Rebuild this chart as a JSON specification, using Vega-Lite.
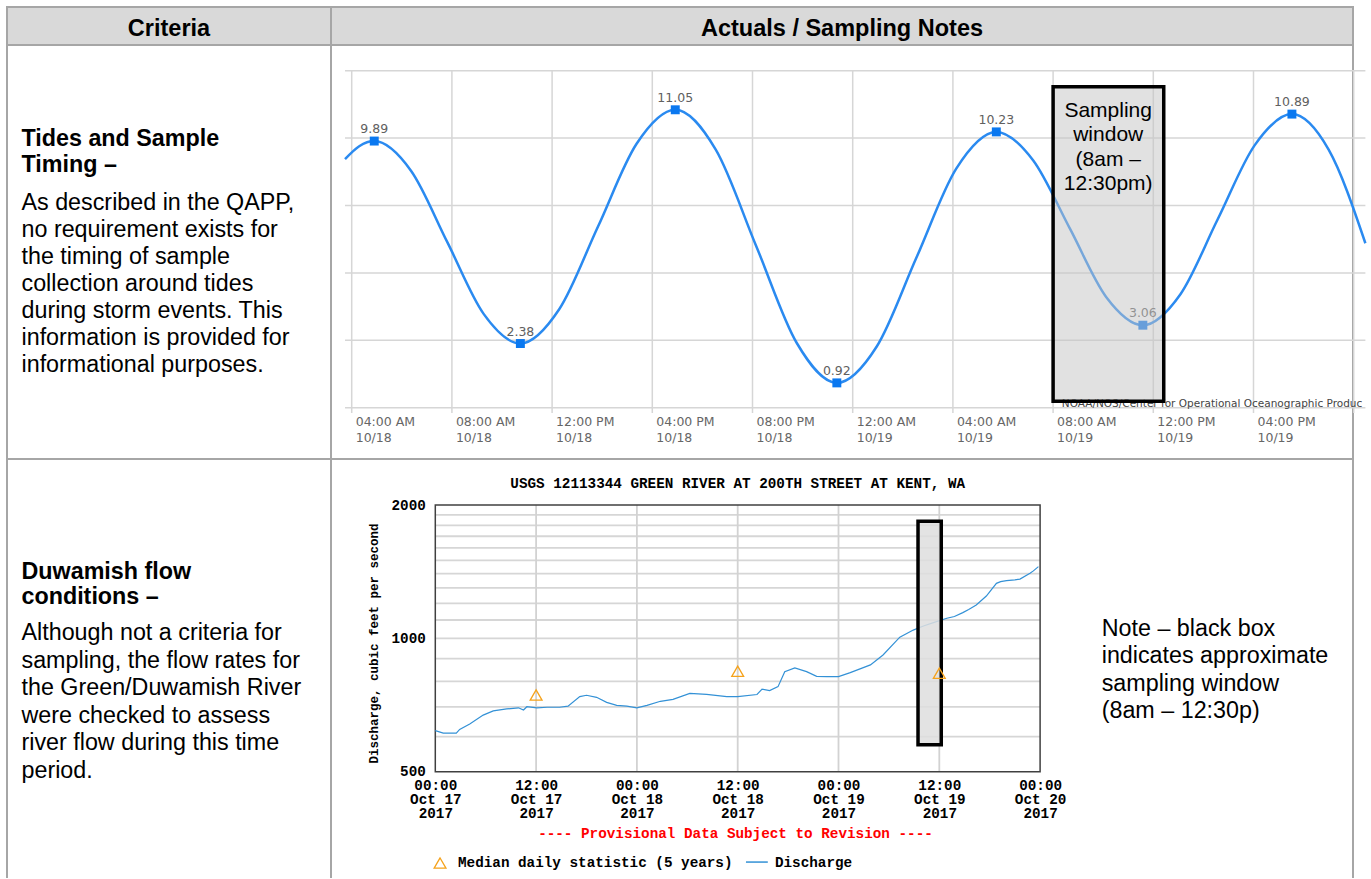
{
  "$schema": "https://vega.github.io/schema/vega-lite/v6.json",
  "background": "white",
  "padding": {"left": 6, "top": 6, "right": 0, "bottom": 0},
  "columns": 2,
  "spacing": 0,
  "bounds": "flush",
  "config": {
    "font": "Liberation Sans",
    "view": {"stroke": "#a6a6a6", "strokeWidth": 2},
    "concat": {"spacing": 0}
  },
  "datasets": {
    "tide": [
      {"t": "2017-10-18T03:44", "ft": 9.22},
      {"t": "2017-10-18T04:18", "ft": 9.70},
      {"t": "2017-10-18T04:54", "ft": 9.89},
      {"t": "2017-10-18T06:22", "ft": 8.79},
      {"t": "2017-10-18T07:49", "ft": 6.14},
      {"t": "2017-10-18T09:16", "ft": 3.48},
      {"t": "2017-10-18T10:44", "ft": 2.38},
      {"t": "2017-10-18T12:17", "ft": 3.65},
      {"t": "2017-10-18T13:50", "ft": 6.72},
      {"t": "2017-10-18T15:22", "ft": 9.78},
      {"t": "2017-10-18T16:55", "ft": 11.05},
      {"t": "2017-10-18T18:32", "ft": 9.57},
      {"t": "2017-10-18T20:09", "ft": 5.99},
      {"t": "2017-10-18T21:46", "ft": 2.40},
      {"t": "2017-10-18T23:22", "ft": 0.92},
      {"t": "2017-10-19T00:58", "ft": 2.28},
      {"t": "2017-10-19T02:33", "ft": 5.58},
      {"t": "2017-10-19T04:08", "ft": 8.87},
      {"t": "2017-10-19T05:44", "ft": 10.23},
      {"t": "2017-10-19T07:12", "ft": 9.18},
      {"t": "2017-10-19T08:40", "ft": 6.65},
      {"t": "2017-10-19T10:07", "ft": 4.11},
      {"t": "2017-10-19T11:35", "ft": 3.06},
      {"t": "2017-10-19T13:05", "ft": 4.21},
      {"t": "2017-10-19T14:34", "ft": 6.98},
      {"t": "2017-10-19T16:03", "ft": 9.74},
      {"t": "2017-10-19T17:32", "ft": 10.89},
      {"t": "2017-10-19T19:00", "ft": 9.57},
      {"t": "2017-10-19T20:28", "ft": 6.10}
    ],
    "tideHighLow": [
      {"t": "2017-10-18T04:54", "ft": 9.89},
      {"t": "2017-10-18T10:44", "ft": 2.38},
      {"t": "2017-10-18T16:55", "ft": 11.05},
      {"t": "2017-10-18T23:22", "ft": 0.92},
      {"t": "2017-10-19T05:44", "ft": 10.23},
      {"t": "2017-10-19T11:35", "ft": 3.06},
      {"t": "2017-10-19T17:32", "ft": 10.89}
    ],
    "tideLevels": [{"ft": 0}, {"ft": 2.5}, {"ft": 5}, {"ft": 7.5}, {"ft": 10}, {"ft": 12.5}],
    "tideHours": [
      {"t": "2017-10-18T04:00"}, {"t": "2017-10-18T08:00"}, {"t": "2017-10-18T12:00"},
      {"t": "2017-10-18T16:00"}, {"t": "2017-10-18T20:00"}, {"t": "2017-10-19T00:00"},
      {"t": "2017-10-19T04:00"}, {"t": "2017-10-19T08:00"}, {"t": "2017-10-19T12:00"},
      {"t": "2017-10-19T16:00"}, {"t": "2017-10-19T20:00"}
    ],
    "tideWindow": [{"start": "2017-10-19T08:00", "end": "2017-10-19T12:25"}],
    "usgs": [
      {"t": "2017-10-17T00:00", "cfs": 619},
      {"t": "2017-10-17T00:57", "cfs": 611},
      {"t": "2017-10-17T02:30", "cfs": 611},
      {"t": "2017-10-17T02:54", "cfs": 623},
      {"t": "2017-10-17T04:06", "cfs": 641},
      {"t": "2017-10-17T05:42", "cfs": 671},
      {"t": "2017-10-17T06:54", "cfs": 686},
      {"t": "2017-10-17T08:30", "cfs": 693},
      {"t": "2017-10-17T09:54", "cfs": 697},
      {"t": "2017-10-17T10:30", "cfs": 689},
      {"t": "2017-10-17T10:54", "cfs": 701},
      {"t": "2017-10-17T12:06", "cfs": 697},
      {"t": "2017-10-17T13:18", "cfs": 699},
      {"t": "2017-10-17T14:48", "cfs": 699},
      {"t": "2017-10-17T15:48", "cfs": 703},
      {"t": "2017-10-17T17:12", "cfs": 739},
      {"t": "2017-10-17T18:00", "cfs": 744},
      {"t": "2017-10-17T19:12", "cfs": 736},
      {"t": "2017-10-17T20:24", "cfs": 717},
      {"t": "2017-10-17T21:36", "cfs": 706},
      {"t": "2017-10-17T22:48", "cfs": 703},
      {"t": "2017-10-18T00:00", "cfs": 697},
      {"t": "2017-10-18T01:12", "cfs": 706},
      {"t": "2017-10-18T02:48", "cfs": 721},
      {"t": "2017-10-18T04:18", "cfs": 728},
      {"t": "2017-10-18T06:18", "cfs": 751},
      {"t": "2017-10-18T08:18", "cfs": 747},
      {"t": "2017-10-18T10:42", "cfs": 739},
      {"t": "2017-10-18T12:00", "cfs": 739},
      {"t": "2017-10-18T14:18", "cfs": 747},
      {"t": "2017-10-18T14:54", "cfs": 768},
      {"t": "2017-10-18T15:48", "cfs": 762},
      {"t": "2017-10-18T16:48", "cfs": 778},
      {"t": "2017-10-18T17:36", "cfs": 841},
      {"t": "2017-10-18T18:48", "cfs": 858},
      {"t": "2017-10-18T20:12", "cfs": 841},
      {"t": "2017-10-18T21:24", "cfs": 821},
      {"t": "2017-10-18T22:36", "cfs": 820},
      {"t": "2017-10-19T00:00", "cfs": 820},
      {"t": "2017-10-19T01:24", "cfs": 837},
      {"t": "2017-10-19T03:48", "cfs": 871},
      {"t": "2017-10-19T05:18", "cfs": 917},
      {"t": "2017-10-19T07:18", "cfs": 1006},
      {"t": "2017-10-19T08:54", "cfs": 1044},
      {"t": "2017-10-19T09:30", "cfs": 1055},
      {"t": "2017-10-19T10:12", "cfs": 1068},
      {"t": "2017-10-19T11:18", "cfs": 1085},
      {"t": "2017-10-19T12:54", "cfs": 1110},
      {"t": "2017-10-19T13:48", "cfs": 1120},
      {"t": "2017-10-19T14:48", "cfs": 1143},
      {"t": "2017-10-19T15:30", "cfs": 1162},
      {"t": "2017-10-19T16:24", "cfs": 1190},
      {"t": "2017-10-19T17:36", "cfs": 1246},
      {"t": "2017-10-19T18:48", "cfs": 1331},
      {"t": "2017-10-19T19:18", "cfs": 1343},
      {"t": "2017-10-19T20:00", "cfs": 1350},
      {"t": "2017-10-19T21:00", "cfs": 1355},
      {"t": "2017-10-19T21:36", "cfs": 1361},
      {"t": "2017-10-19T22:48", "cfs": 1402},
      {"t": "2017-10-19T23:12", "cfs": 1420},
      {"t": "2017-10-19T23:48", "cfs": 1452}
    ],
    "median": [
      {"t": "2017-10-17T12:00", "cfs": 745},
      {"t": "2017-10-18T12:00", "cfs": 843},
      {"t": "2017-10-19T12:00", "cfs": 834}
    ],
    "usgsLevels": [
      {"cfs": 600}, {"cfs": 700}, {"cfs": 800}, {"cfs": 900}, {"cfs": 1000},
      {"cfs": 1100}, {"cfs": 1200}, {"cfs": 1300}, {"cfs": 1400}, {"cfs": 1500},
      {"cfs": 1600}, {"cfs": 1700}, {"cfs": 1800}, {"cfs": 1900}
    ],
    "usgsHours": [
      {"t": "2017-10-17T12:00"}, {"t": "2017-10-18T00:00"}, {"t": "2017-10-18T12:00"},
      {"t": "2017-10-19T00:00"}, {"t": "2017-10-19T12:00"}
    ],
    "usgsWindow": [{"start": "2017-10-19T09:28", "end": "2017-10-19T12:14"}]
  },
  "concat": [
    {
      "width": 324, "height": 38,
      "view": {"fill": "#d9d9d9"},
      "data": {"values": [{"label": "Criteria"}]},
      "mark": {"type": "text", "font": "Liberation Sans", "fontSize": 23.5, "fontWeight": "bold", "align": "center", "baseline": "alphabetic", "color": "black"},
      "encoding": {"text": {"field": "label"}, "x": {"value": 162}, "y": {"value": 29.4}}
    },
    {
      "width": 1022, "height": 38,
      "view": {"fill": "#d9d9d9"},
      "data": {"values": [{"label": "Actuals / Sampling Notes"}]},
      "mark": {"type": "text", "font": "Liberation Sans", "fontSize": 23.5, "fontWeight": "bold", "align": "center", "baseline": "alphabetic", "color": "black"},
      "encoding": {"text": {"field": "label"}, "x": {"value": 511}, "y": {"value": 29.4}}
    },
    {
      "width": 324, "height": 414,
      "layer": [
        {
          "data": {"values": [{"label": "Tides and Sample\nTiming –"}]},
          "mark": {"type": "text", "lineBreak": "\n", "font": "Liberation Sans", "fontSize": 23.3, "fontWeight": "bold", "lineHeight": 25.5, "align": "left", "baseline": "alphabetic", "color": "black"},
          "encoding": {"text": {"field": "label"}, "x": {"value": 14.5}, "y": {"value": 101}}
        },
        {
          "data": {"values": [{"label": "As described in the QAPP,\nno requirement exists for\nthe timing of sample\ncollection around tides\nduring storm events. This\ninformation is provided for\ninformational purposes."}]},
          "mark": {"type": "text", "lineBreak": "\n", "font": "Liberation Sans", "fontSize": 23.3, "lineHeight": 27, "align": "left", "baseline": "alphabetic", "color": "black"},
          "encoding": {"text": {"field": "label"}, "x": {"value": 14.5}, "y": {"value": 164.5}}
        }
      ]
    },
    {
      "width": 1022, "height": 414,
      "layer": [
        {
          "data": {"name": "tideLevels"},
          "mark": {"type": "rule", "color": "#d6d6d6", "strokeWidth": 1.5},
          "encoding": {
            "y": {"field": "ft", "type": "quantitative", "scale": {"domain": [-1.903, 13.453], "nice": false, "zero": false}, "axis": null},
            "x": {
              "datum": {"year": 2017, "month": 10, "date": 18, "hours": 3, "minutes": 44},
              "type": "temporal",
              "scale": {"domain": [
                {"year": 2017, "month": 10, "date": 18, "hours": 3, "minutes": 10, "seconds": 25},
                {"year": 2017, "month": 10, "date": 19, "hours": 19, "minutes": 58, "seconds": 19}
              ], "nice": false},
              "axis": {
                "title": null,
                "values": [
                  {"year": 2017, "month": 10, "date": 18, "hours": 4},
                  {"year": 2017, "month": 10, "date": 18, "hours": 8},
                  {"year": 2017, "month": 10, "date": 18, "hours": 12},
                  {"year": 2017, "month": 10, "date": 18, "hours": 16},
                  {"year": 2017, "month": 10, "date": 18, "hours": 20},
                  {"year": 2017, "month": 10, "date": 19, "hours": 0},
                  {"year": 2017, "month": 10, "date": 19, "hours": 4},
                  {"year": 2017, "month": 10, "date": 19, "hours": 8},
                  {"year": 2017, "month": 10, "date": 19, "hours": 12},
                  {"year": 2017, "month": 10, "date": 19, "hours": 16}
                ],
                "labelExpr": "[timeFormat(datum.value, '%I:%M %p'), timeFormat(datum.value, '%m/%d')]",
                "offset": -51.3,
                "domain": false, "ticks": false, "tickSize": 0, "grid": false,
                "labelAlign": "left", "labelBaseline": "top", "labelOffset": 3.5,
                "labelPadding": 7.4, "labelLineHeight": 16,
                "labelFont": "DejaVu Sans", "labelFontSize": 12.5, "labelColor": "#666666",
                "labelOverlap": false, "labelFlush": false, "labelBound": false
              }
            },
            "x2": {"datum": {"year": 2017, "month": 10, "date": 19, "hours": 20, "minutes": 28}}
          }
        },
        {
          "data": {"name": "tideHours"},
          "mark": {"type": "rule", "color": "#d6d6d6", "strokeWidth": 1.5},
          "encoding": {
            "x": {"field": "t", "type": "temporal"},
            "y": {"datum": 12.5, "type": "quantitative"},
            "y2": {"datum": -0.2}
          }
        },
        {
          "data": {"values": [{"credit": "NOAA/NOS/Center for Operational Oceanographic Products and Services"}]},
          "mark": {"type": "text", "font": "DejaVu Sans", "fontSize": 10.5, "color": "#444444", "align": "left", "baseline": "alphabetic", "limit": 304, "ellipsis": "\u200b"},
          "encoding": {
            "text": {"field": "credit"},
            "x": {"datum": {"year": 2017, "month": 10, "date": 19, "hours": 8, "minutes": 21}, "type": "temporal"},
            "y": {"datum": 0.04, "type": "quantitative"}
          }
        },
        {
          "data": {"name": "tide"},
          "mark": {"type": "line", "interpolate": "monotone", "color": "#2a8af0", "strokeWidth": 2.5},
          "encoding": {
            "x": {"field": "t", "type": "temporal"},
            "y": {"field": "ft", "type": "quantitative"}
          }
        },
        {
          "data": {"name": "tideHighLow"},
          "mark": {"type": "point", "shape": "square", "filled": true, "size": 80, "color": "#0a78f0", "opacity": 1},
          "encoding": {
            "x": {"field": "t", "type": "temporal"},
            "y": {"field": "ft", "type": "quantitative"}
          }
        },
        {
          "data": {"name": "tideHighLow"},
          "mark": {"type": "text", "font": "DejaVu Sans", "fontSize": 12.5, "color": "#606060", "align": "center", "baseline": "alphabetic", "dy": -8},
          "encoding": {
            "x": {"field": "t", "type": "temporal"},
            "y": {"field": "ft", "type": "quantitative"},
            "text": {"field": "ft", "type": "quantitative", "format": ".2f"}
          }
        },
        {
          "data": {"name": "tideWindow"},
          "mark": {"type": "rect", "fill": "#c4c4c4", "fillOpacity": 0.5, "stroke": "black", "strokeWidth": 3.5},
          "encoding": {
            "x": {"field": "start", "type": "temporal"},
            "x2": {"field": "end"},
            "y": {"datum": 11.9, "type": "quantitative"},
            "y2": {"datum": 0.24}
          }
        },
        {
          "data": {"values": [{"label": "Sampling\nwindow\n(8am –\n12:30pm)"}]},
          "mark": {"type": "text", "lineBreak": "\n", "font": "Liberation Sans", "fontSize": 21, "lineHeight": 24.5, "align": "center", "baseline": "alphabetic", "color": "black"},
          "encoding": {
            "text": {"field": "label"},
            "x": {"datum": {"year": 2017, "month": 10, "date": 19, "hours": 10, "minutes": 12}, "type": "temporal"},
            "y": {"datum": 10.79, "type": "quantitative"}
          }
        }
      ]
    },
    {
      "width": 324, "height": 419,
      "view": {"strokeDash": [743, 324, 419]},
      "layer": [
        {
          "data": {"values": [{"label": "Duwamish flow\nconditions –"}]},
          "mark": {"type": "text", "lineBreak": "\n", "font": "Liberation Sans", "fontSize": 23.3, "fontWeight": "bold", "lineHeight": 25, "align": "left", "baseline": "alphabetic", "color": "black"},
          "encoding": {"text": {"field": "label"}, "x": {"value": 14.5}, "y": {"value": 120.3}}
        },
        {
          "data": {"values": [{"label": "Although not a criteria for\nsampling, the flow rates for\nthe Green/Duwamish River\nwere checked to assess\nriver flow during this time\nperiod."}]},
          "mark": {"type": "text", "lineBreak": "\n", "font": "Liberation Sans", "fontSize": 23.3, "lineHeight": 27.6, "align": "left", "baseline": "alphabetic", "color": "black"},
          "encoding": {"text": {"field": "label"}, "x": {"value": 14.5}, "y": {"value": 181}}
        }
      ]
    },
    {
      "width": 1022, "height": 419,
      "view": {"strokeDash": [1441, 1022, 419]},
      "layer": [
        {
          "data": {"name": "usgsLevels"},
          "mark": {"type": "rule", "color": "#d6d6d6", "strokeWidth": 1.8},
          "encoding": {
            "y": {
              "field": "cfs", "type": "quantitative",
              "scale": {"type": "log", "domain": [287.75, 2540.3], "nice": false, "zero": false},
              "axis": {
                "values": [500, 1000, 2000],
                "format": "d",
                "offset": -104.3,
                "domain": false, "ticks": false, "tickSize": 0, "grid": false,
                "labelPadding": 10,
                "labelFont": "Liberation Mono", "labelFontSize": 14.3, "labelFontWeight": "bold", "labelColor": "black",
                "labelOverlap": false, "labelFlush": false,
                "title": "Discharge, cubic feet per second",
                "titleFont": "Liberation Mono", "titleFontSize": 12.5, "titleFontWeight": "bold", "titleColor": "black",
                "titlePadding": 10, "titleY": 184
              }
            },
            "x": {
              "datum": {"year": 2017, "month": 10, "date": 17}, "type": "temporal",
              "scale": {"domain": [
                {"year": 2017, "month": 10, "date": 16, "hours": 11, "minutes": 35},
                {"year": 2017, "month": 10, "date": 21, "hours": 13, "minutes": 15}
              ], "nice": false},
              "axis": {
                "title": null,
                "values": [
                  {"year": 2017, "month": 10, "date": 17, "hours": 0},
                  {"year": 2017, "month": 10, "date": 17, "hours": 12},
                  {"year": 2017, "month": 10, "date": 18, "hours": 0},
                  {"year": 2017, "month": 10, "date": 18, "hours": 12},
                  {"year": 2017, "month": 10, "date": 19, "hours": 0},
                  {"year": 2017, "month": 10, "date": 19, "hours": 12},
                  {"year": 2017, "month": 10, "date": 20, "hours": 0}
                ],
                "labelExpr": "[timeFormat(datum.value, '%H:%M'), timeFormat(datum.value, '%b %d'), timeFormat(datum.value, '%Y')]",
                "offset": -106.3,
                "domain": false, "ticks": false, "tickSize": 0, "grid": false,
                "labelAlign": "center", "labelBaseline": "top",
                "labelPadding": 7, "labelLineHeight": 13.7,
                "labelFont": "Liberation Mono", "labelFontSize": 14.3, "labelFontWeight": "bold", "labelColor": "black",
                "labelOverlap": false, "labelFlush": false, "labelBound": false
              }
            },
            "x2": {"datum": {"year": 2017, "month": 10, "date": 20}}
          }
        },
        {
          "data": {"name": "usgsHours"},
          "mark": {"type": "rule", "color": "#d2d2d2", "strokeWidth": 1.8},
          "encoding": {
            "x": {"field": "t", "type": "temporal"},
            "y": {"datum": 500, "type": "quantitative"},
            "y2": {"datum": 2000}
          }
        },
        {
          "data": {"values": [{"frame": "plot"}]},
          "mark": {"type": "rect", "fill": null, "fillOpacity": 0, "stroke": "#404040", "strokeWidth": 1.5},
          "encoding": {
            "x": {"datum": {"year": 2017, "month": 10, "date": 17}, "type": "temporal"},
            "x2": {"datum": {"year": 2017, "month": 10, "date": 20}},
            "y": {"datum": 500, "type": "quantitative"},
            "y2": {"datum": 2000}
          }
        },
        {
          "data": {"name": "usgs"},
          "mark": {"type": "line", "interpolate": "linear", "color": "#3391d6", "strokeWidth": 1.2},
          "encoding": {
            "x": {"field": "t", "type": "temporal"},
            "y": {"field": "cfs", "type": "quantitative"}
          }
        },
        {
          "data": {"name": "usgsWindow"},
          "mark": {"type": "rect", "fill": "#dedede", "fillOpacity": 0.85, "stroke": "black", "strokeWidth": 3.5},
          "encoding": {
            "x": {"field": "start", "type": "temporal"},
            "x2": {"field": "end"},
            "y": {"datum": 1838, "type": "quantitative"},
            "y2": {"datum": 575}
          }
        },
        {
          "data": {"name": "median"},
          "mark": {"type": "point", "shape": "triangle-up", "filled": false, "size": 140, "color": "#f5a21b", "strokeWidth": 1.3, "opacity": 1},
          "encoding": {
            "x": {"field": "t", "type": "temporal"},
            "y": {"field": "cfs", "type": "quantitative"}
          }
        },
        {
          "data": {"values": [{"label": "USGS 12113344 GREEN RIVER AT 200TH STREET AT KENT, WA"}]},
          "mark": {"type": "text", "font": "Liberation Mono", "fontSize": 14.3, "fontWeight": "bold", "align": "center", "baseline": "alphabetic", "color": "black"},
          "encoding": {
            "text": {"field": "label"},
            "x": {"datum": {"year": 2017, "month": 10, "date": 18, "hours": 12}, "type": "temporal"},
            "y": {"datum": 2181, "type": "quantitative"}
          }
        },
        {
          "data": {"values": [{"label": "---- Provisional Data Subject to Revision ----"}]},
          "mark": {"type": "text", "font": "Liberation Mono", "fontSize": 14.3, "fontWeight": "bold", "align": "center", "baseline": "alphabetic", "color": "#ff0000"},
          "encoding": {
            "text": {"field": "label"},
            "x": {"datum": {"year": 2017, "month": 10, "date": 18, "hours": 11, "minutes": 44}, "type": "temporal"},
            "y": {"datum": 354, "type": "quantitative"}
          }
        },
        {
          "data": {"values": [{"series": "Median daily statistic (5 years)"}]},
          "mark": {"type": "point", "shape": "triangle-up", "filled": false, "size": 140, "color": "#f5a21b", "strokeWidth": 1.3, "opacity": 1},
          "encoding": {
            "x": {"datum": {"year": 2017, "month": 10, "date": 17, "hours": 0, "minutes": 34}, "type": "temporal"},
            "y": {"datum": 311, "type": "quantitative"}
          }
        },
        {
          "data": {"values": [{"series": "Median daily statistic (5 years)"}]},
          "mark": {"type": "text", "font": "Liberation Mono", "fontSize": 14.3, "fontWeight": "bold", "align": "left", "baseline": "alphabetic", "color": "black"},
          "encoding": {
            "text": {"field": "series"},
            "x": {"datum": {"year": 2017, "month": 10, "date": 17, "hours": 2, "minutes": 42}, "type": "temporal"},
            "y": {"datum": 305.2, "type": "quantitative"}
          }
        },
        {
          "data": {"values": [{"series": "Discharge"}]},
          "mark": {"type": "rule", "color": "#3391d6", "strokeWidth": 1.5},
          "encoding": {
            "x": {"datum": {"year": 2017, "month": 10, "date": 18, "hours": 12, "minutes": 59}, "type": "temporal"},
            "x2": {"datum": {"year": 2017, "month": 10, "date": 18, "hours": 15, "minutes": 35}},
            "y": {"datum": 312.6, "type": "quantitative"}
          }
        },
        {
          "data": {"values": [{"series": "Discharge"}]},
          "mark": {"type": "text", "font": "Liberation Mono", "fontSize": 14.3, "fontWeight": "bold", "align": "left", "baseline": "alphabetic", "color": "black"},
          "encoding": {
            "text": {"field": "series"},
            "x": {"datum": {"year": 2017, "month": 10, "date": 18, "hours": 16, "minutes": 26}, "type": "temporal"},
            "y": {"datum": 305.2, "type": "quantitative"}
          }
        },
        {
          "data": {"values": [{"label": "Note – black box\nindicates approximate\nsampling window\n(8am – 12:30p)"}]},
          "mark": {"type": "text", "lineBreak": "\n", "font": "Liberation Sans", "fontSize": 23.3, "lineHeight": 27.4, "align": "left", "baseline": "alphabetic", "color": "black"},
          "encoding": {
            "text": {"field": "label"},
            "x": {"datum": {"year": 2017, "month": 10, "date": 20, "hours": 7, "minutes": 20}, "type": "temporal"},
            "y": {"datum": 1012.6, "type": "quantitative"}
          }
        }
      ]
    }
  ]
}
